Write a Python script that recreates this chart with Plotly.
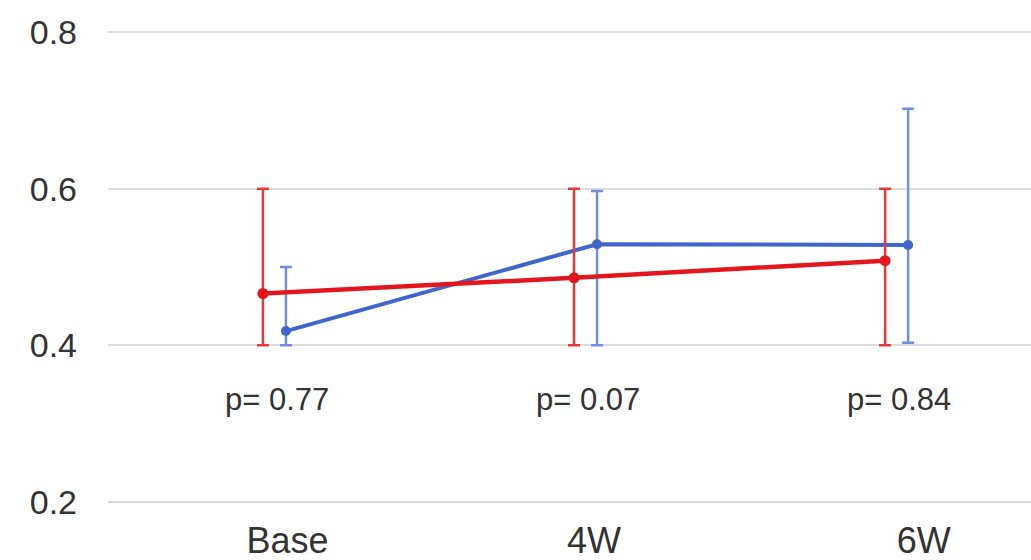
import plotly.graph_objects as go

# ---- data ----
categories = ["Base", "4W", "6W"]
p_values = ["p= 0.77", "p= 0.07", "p= 0.84"]

red_mean = [0.466, 0.486, 0.508]
red_low = [0.400, 0.400, 0.400]
red_high = [0.600, 0.600, 0.600]

blue_mean = [0.418, 0.529, 0.528]
blue_low = [0.400, 0.400, 0.403]
blue_high = [0.500, 0.597, 0.702]

y_ticks = [0.2, 0.4, 0.6, 0.8]

# ---- layout helpers (style only) ----
idx = list(range(len(categories)))
red_shift = -0.074
label_nudge = [0.005, -0.01, 0.05]
p_shift = -0.03
p_level = 0.330

RED = "#e3161b"
RED_ERR = "#e8383c"
BLUE = "#3f66cc"
BLUE_ERR = "#6f90e0"
TEXT = "#333333"

fig = go.Figure()

fig.add_trace(go.Scatter(
    x=[i for i in idx], y=blue_mean, mode="lines+markers",
    line=dict(color=BLUE, width=4),
    marker=dict(color=BLUE, size=10),
    error_y=dict(type="data", symmetric=False,
                 array=[h - m for h, m in zip(blue_high, blue_mean)],
                 arrayminus=[m - l for m, l in zip(blue_mean, blue_low)],
                 color=BLUE_ERR, thickness=2.5, width=6),
    showlegend=False, hoverinfo="skip",
))

fig.add_trace(go.Scatter(
    x=[i + red_shift for i in idx], y=red_mean, mode="lines+markers",
    line=dict(color=RED, width=4.5),
    marker=dict(color=RED, size=11),
    error_y=dict(type="data", symmetric=False,
                 array=[h - m for h, m in zip(red_high, red_mean)],
                 arrayminus=[m - l for m, l in zip(red_mean, red_low)],
                 color=RED_ERR, thickness=2.5, width=6),
    showlegend=False, hoverinfo="skip",
))

for i, txt in zip(idx, p_values):
    fig.add_annotation(x=i + p_shift, y=p_level, text=txt, showarrow=False,
                       xref="x", yref="y",
                       font=dict(family="Liberation Sans, Arial", size=31, color=TEXT))

fig.update_layout(
    width=1031, height=560,
    margin=dict(l=108, r=0, t=0, b=55),
    paper_bgcolor="white", plot_bgcolor="white",
    font=dict(family="Liberation Sans, Arial", color=TEXT),
)

fig.update_xaxes(
    range=[-0.572, 2.395],
    tickvals=[i + n for i, n in zip(idx, label_nudge)],
    ticktext=categories,
    showgrid=False, zeroline=False, showline=False, ticks="",
    tickfont=dict(size=36, color=TEXT),
    ticklabelstandoff=11,
)

fig.update_yaxes(
    range=[0.1958, 0.841],
    tickvals=y_ticks,
    ticktext=[f"{v:.1f}" for v in y_ticks],
    showgrid=True, gridcolor="#dcdcdc", gridwidth=1.5,
    zeroline=False, showline=False, ticks="",
    tickfont=dict(size=34, color=TEXT),
    ticklabelstandoff=30,
)

fig.write_html("out.html")
